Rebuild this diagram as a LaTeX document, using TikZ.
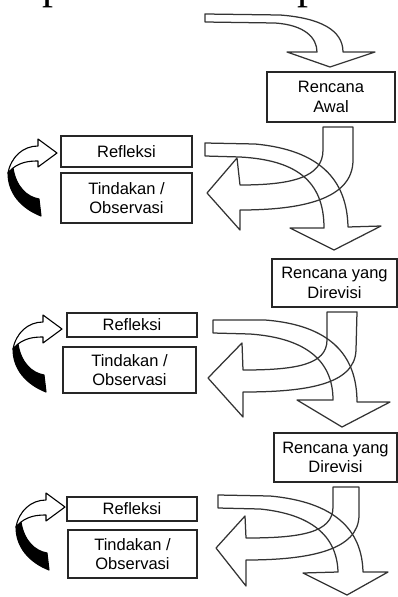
\documentclass[tikz,border=0pt]{standalone}
\usepackage{fontspec}
\setmainfont{Liberation Sans}
\newfontfamily\serifp{Liberation Serif}
\begin{document}
\begin{tikzpicture}[x=1pt,y=-1pt,
  box/.style={draw=black!85, line width=1.4pt, align=center, inner sep=0pt,
    text=black, font=\fontsize{16.5}{19.5}\selectfont},
  blk/.style={draw=black!80, line width=1.25pt, line join=round},
  curlw/.style={draw=black, fill=white, line width=1.1pt, line join=round},
  curlb/.style={draw=black, fill=black, line width=1.1pt, line join=round}]
\useasboundingbox (0,0) rectangle (398,597);
\clip (0,0) rectangle (398,597);

% cut-off glyphs of the line above
\node[anchor=base west, inner sep=0pt, font=\serifp\fontsize{44}{48}\selectfont] (p1) at (42,-1.5) {p};
\node[anchor=base west, inner sep=0pt, font=\serifp\fontsize{44}{48}\selectfont] (p2) at (297,-1.5) {p};

% boxes
\node[box, minimum width=128pt, minimum height=50pt] (ra) at (331,97) {Rencana\\Awal};
\node[box, minimum width=131pt, minimum height=31pt] (r1) at (126.5,151.5) {Refleksi};
\node[box, minimum width=131pt, minimum height=50pt] (t1) at (126.5,198) {Tindakan /\\Observasi};
\node[box, minimum width=125pt, minimum height=48pt] (rr2) at (334.5,283) {Rencana yang\\Direvisi};
\node[box, minimum width=130pt, minimum height=24pt] (r2) at (132,325) {Refleksi};
\node[box, minimum width=133pt, minimum height=46pt] (t2) at (129.5,370) {Tindakan /\\Observasi};
\node[box, minimum width=123pt, minimum height=49pt] (rr3) at (335.5,457.5) {Rencana yang\\Direvisi};
\node[box, minimum width=130pt, minimum height=24pt] (r3) at (132,509) {Refleksi};
\node[box, minimum width=129pt, minimum height=48pt] (t3) at (132.5,554) {Tindakan /\\Observasi};

% entering arrow
\draw[blk] (205,14) -- (280,15) .. controls (320,18) and (343,30) .. (343,52)
  -- (375,52) -- (330,67) -- (287,52) -- (317,52)
  .. controls (317,38) and (305,25) .. (275,23) -- (205,22) -- cycle;

% cycle 1
\draw[blk] (323,127) -- (323,150) .. controls (323,178) and (290,185) .. (240,185)
  -- (237,158) -- (207,193) -- (240,230) -- (240,210)
  .. controls (300,210) and (353,200) .. (353,160) -- (353,127) -- cycle;
\draw[blk] (205,143) -- (255,144) .. controls (320,150) and (347,180) .. (348,227)
  -- (381,226) -- (334,250) -- (290,228) -- (324,228)
  .. controls (324,180) and (295,160) .. (240,157) -- (205,156) -- cycle;

% cycle 2
\draw[blk] (327,312) -- (327,340) .. controls (327,365) and (295,370) .. (243,370)
  -- (242,343) -- (208,378) -- (243,417) -- (243,392)
  .. controls (305,392) and (355,385) .. (356,350) -- (357,312) -- cycle;
\draw[blk] (213,320) -- (265,320) .. controls (330,325) and (357,355) .. (357,402)
  -- (390,402) -- (342,427) -- (297,400) -- (333,400)
  .. controls (333,360) and (305,338) .. (250,334) -- (213,333) -- cycle;

% cycle 3
\draw[blk] (333,487) -- (333,507) .. controls (333,533) and (300,538) .. (246,538)
  -- (245,516) -- (216,548) -- (246,586) -- (246,560)
  .. controls (310,560) and (359,550) .. (359,515) -- (359,487) -- cycle;
\draw[blk] (218,495) -- (270,496) .. controls (335,502) and (362,530) .. (363,572)
  -- (388,572) -- (347,595) -- (303,573) -- (338,572)
  .. controls (337,535) and (310,514) .. (260,509) -- (218,508) -- cycle;

% curled arrows
\foreach \tx/\ty in {57/153, 62/329, 65/507}{
  \begin{scope}[shift={(\tx,\ty)}]
    \draw[curlb] (-49,20) .. controls (-49,40) and (-36,55) .. (-16,63)
      -- (-18,46) .. controls (-30,44) and (-41,34) .. (-44,15) -- cycle;
    \draw[curlw] (-44,15) .. controls (-36,9) and (-28,8) .. (-19,8)
      -- (-19,14) -- (0,0) -- (-19,-14) -- (-19,-7)
      .. controls (-34,-7) and (-46,4) .. (-49,20) -- cycle;
  \end{scope}
}
\end{tikzpicture}
\end{document}
